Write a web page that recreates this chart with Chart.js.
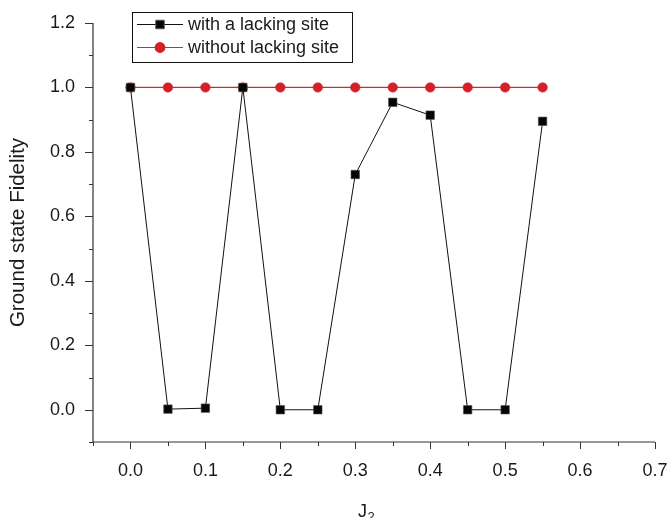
<!DOCTYPE html>
<html>
<head>
<meta charset="utf-8">
<script src="https://cdn.jsdelivr.net/npm/chart.js@4/dist/chart.umd.min.js"></script>
<style>
  html, body { margin: 0; padding: 0; background: #ffffff; }
  #wrap { width: 669px; height: 518px; position: relative; }
</style>
</head>
<body>
<div id="wrap"><canvas id="c" width="669" height="518"></canvas></div>
<script>
// J2 coupling values (x) and ground state fidelity for both lattices
const j2Values = [0.00, 0.05, 0.10, 0.15, 0.20, 0.25, 0.30, 0.35, 0.40, 0.45, 0.50, 0.55];
const fidelityWithLacking = [1.0, 0.002, 0.005, 1.0, 0.0, 0.0, 0.73, 0.954, 0.914, 0.0, 0.0, 0.895];
const fidelityWithoutLacking = [1.0, 1.0, 1.0, 1.0, 1.0, 1.0, 1.0, 1.0, 1.0, 1.0, 1.0, 1.0];
const seriesLabels = ['with a lacking site', 'without lacking site'];

// Axis ticks
const xMajorTicks = [0.0, 0.1, 0.2, 0.3, 0.4, 0.5, 0.6, 0.7];
const xMinorTicks = [-0.05, 0.05, 0.15, 0.25, 0.35, 0.45, 0.55, 0.65];
const yMajorTicks = [0.0, 0.2, 0.4, 0.6, 0.8, 1.0, 1.2];
const yMinorTicks = [-0.1, 0.1, 0.3, 0.5, 0.7, 0.9, 1.1];

const FONT = '"Liberation Sans", Arial, Helvetica, sans-serif';
const TEXT = '#1a1a1a';
const AXIS = '#333333';

// Axis lines with major/minor tick marks pointing outward
const axisFrame = {
  id: 'axisFrame',
  beforeDatasetsDraw(chart) {
    const { ctx, chartArea: a, scales: { x, y } } = chart;
    ctx.save();
    ctx.strokeStyle = AXIS;
    ctx.lineWidth = 1.2;
    ctx.beginPath();
    ctx.moveTo(a.left, a.top);
    ctx.lineTo(a.left, a.bottom);
    ctx.lineTo(a.right, a.bottom);
    ctx.stroke();
    ctx.lineWidth = 1;
    ctx.beginPath();
    xMajorTicks.forEach(v => { const p = Math.round(x.getPixelForValue(v)) + 0.5; ctx.moveTo(p, a.bottom); ctx.lineTo(p, a.bottom + 7); });
    xMinorTicks.forEach(v => { const p = Math.round(x.getPixelForValue(v)) + 0.5; ctx.moveTo(p, a.bottom); ctx.lineTo(p, a.bottom + 4); });
    yMajorTicks.forEach(v => { const p = Math.round(y.getPixelForValue(v)) + 0.5; ctx.moveTo(a.left, p); ctx.lineTo(a.left - 8, p); });
    yMinorTicks.forEach(v => { const p = Math.round(y.getPixelForValue(v)) + 0.5; ctx.moveTo(a.left, p); ctx.lineTo(a.left - 4, p); });
    ctx.stroke();
    ctx.restore();
  },
  afterDraw(chart) {
    const { ctx } = chart;
    // x-axis title J with subscript 2
    ctx.save();
    ctx.fillStyle = TEXT;
    ctx.textBaseline = 'alphabetic';
    ctx.textAlign = 'left';
    ctx.font = '18px ' + FONT;
    const jx = 358;
    ctx.fillText('J', jx, 517);
    const jw = ctx.measureText('J').width;
    ctx.font = '13px ' + FONT;
    ctx.fillText('2', jx + jw + 0.5, 521);
    ctx.restore();
  }
};

// Boxed legend with line + marker samples
const boxedLegend = {
  id: 'boxedLegend',
  afterDraw(chart) {
    const { ctx } = chart;
    const box = { x: 132.5, y: 12.5, w: 220, h: 50 };
    ctx.save();
    ctx.fillStyle = '#ffffff';
    ctx.fillRect(box.x, box.y, box.w, box.h);
    ctx.strokeStyle = '#111111';
    ctx.lineWidth = 1;
    ctx.strokeRect(box.x, box.y, box.w, box.h);
    const rows = [24, 47];
    chart.data.datasets.forEach((ds, i) => {
      const ry = rows[i];
      ctx.strokeStyle = ds.borderColor;
      ctx.lineWidth = ds.borderWidth;
      ctx.beginPath();
      ctx.moveTo(137, ry + 0.5);
      ctx.lineTo(183, ry + 0.5);
      ctx.stroke();
      ctx.fillStyle = ds.pointBackgroundColor;
      ctx.strokeStyle = ds.pointBorderColor;
      Chart.helpers.drawPoint(ctx, {
        pointStyle: ds.pointStyle, radius: ds.pointRadius, rotation: 0, borderWidth: ds.pointBorderWidth
      }, 160, ry + 0.5);
      ctx.fillStyle = TEXT;
      ctx.font = '18px ' + FONT;
      ctx.textAlign = 'left';
      ctx.textBaseline = 'middle';
      ctx.fillText(ds.label, 188, ry + 1);
    });
    ctx.restore();
  }
};

const toPoints = ys => j2Values.map((x, i) => ({ x, y: ys[i] }));

new Chart(document.getElementById('c'), {
  type: 'line',
  data: {
    datasets: [
      {
        label: seriesLabels[0],
        data: toPoints(fidelityWithLacking),
        borderColor: '#111111',
        borderWidth: 1,
        pointStyle: 'rect',
        pointRadius: 6,
        pointBackgroundColor: '#050505',
        pointBorderColor: '#555555',
        pointBorderWidth: 0.6,
        tension: 0
      },
      {
        label: seriesLabels[1],
        data: toPoints(fidelityWithoutLacking),
        borderColor: '#d9262e',
        borderWidth: 1.2,
        pointStyle: 'circle',
        pointRadius: 4.8,
        pointBackgroundColor: '#d42029',
        pointBorderColor: '#d42029',
        pointBorderWidth: 0.5,
        tension: 0
      }
    ]
  },
  options: {
    responsive: false,
    animation: false,
    devicePixelRatio: 1,
    layout: { padding: { left: 0, right: 14, top: 23, bottom: 0 } },
    plugins: { legend: { display: false }, tooltip: { enabled: false } },
    scales: {
      x: {
        type: 'linear',
        min: -0.05,
        max: 0.7,
        grid: { display: false, drawTicks: false },
        border: { display: false },
        afterBuildTicks: s => { s.ticks = xMajorTicks.map(v => ({ value: v })); },
        afterFit: s => { s.height = 76; s.paddingLeft = 0; s.paddingRight = 0; },
        ticks: {
          padding: 18,
          color: TEXT,
          font: { family: FONT, size: 18 },
          maxRotation: 0,
          callback: v => Number(v).toFixed(1)
        }
      },
      y: {
        type: 'linear',
        min: -0.1,
        max: 1.2,
        grid: { display: false, drawTicks: false },
        border: { display: false },
        afterBuildTicks: s => { s.ticks = yMajorTicks.map(v => ({ value: v })); },
        afterFit: s => { s.width = 93; s.paddingTop = 0; s.paddingBottom = 0; },
        title: {
          display: true,
          text: 'Ground state Fidelity',
          color: TEXT,
          font: { family: FONT, size: 20.5 },
          padding: { top: 6, bottom: 0 }
        },
        ticks: {
          padding: 18,
          color: TEXT,
          font: { family: FONT, size: 18 },
          callback: v => Number(v).toFixed(1)
        }
      }
    }
  },
  plugins: [axisFrame, boxedLegend]
});
</script>
</body>
</html>
